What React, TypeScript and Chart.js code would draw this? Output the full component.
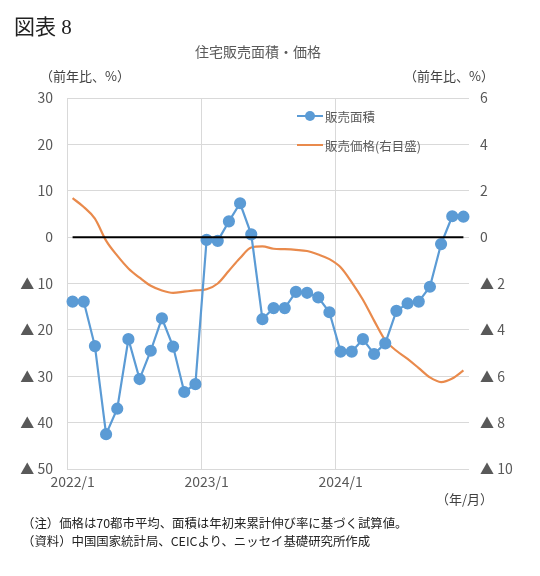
import React, { useEffect, useRef } from "react";
import { Chart, registerables, Plugin } from "chart.js";

Chart.register(...registerables);

// 2022/1 - 2024/12
const months: string[] = [];
for (const y of [2022, 2023, 2024]) {
  for (let m = 1; m <= 12; m++) months.push(`${y}/${m}`);
}

// 販売面積 (left axis, %)
const areaYoY = [
  -13.9, -13.9, -23.5, -42.5, -37.0, -22.0, -30.6, -24.5, -17.5, -23.6, -33.4, -31.7,
  -0.6, -0.8, 3.4, 7.3, 0.6, -17.7, -15.3, -15.3, -11.8, -12.0, -13.0, -16.2,
  -24.7, -24.7, -22.0, -25.2, -22.9, -15.9, -14.3, -13.9, -10.7, -1.5, 4.5, 4.4,
];

// 販売価格 (right axis, %)
const priceYoY = [
  1.68, 1.3, 0.8, -0.15, -0.8, -1.35, -1.75, -2.1, -2.3, -2.4, -2.35, -2.3,
  -2.25, -2.0, -1.45, -0.9, -0.45, -0.4, -0.5, -0.52, -0.55, -0.6, -0.75, -0.95,
  -1.3, -1.95, -2.7, -3.6, -4.45, -4.9, -5.25, -5.65, -6.05, -6.25, -6.1, -5.75,
];

const BLUE = "#5b9bd5";
const ORANGE = "#e98a4c";
const TICK = "#595959";
const GRID = "#d9d9d9";
const JP = '"Noto Sans CJK JP", "Noto Sans", sans-serif';

const tri = (v: number) => (v < 0 ? `▲ ${-v}` : `${v}`);

// black zero line from first to last month
const zeroLine: Plugin<"line"> = {
  id: "zeroLine",
  afterDatasetsDraw(chart) {
    const { ctx } = chart;
    const x = chart.scales.x;
    const y = chart.scales.y;
    const yy = y.getPixelForValue(0);
    ctx.save();
    ctx.strokeStyle = "#000";
    ctx.lineWidth = 2;
    ctx.beginPath();
    ctx.moveTo(x.getPixelForValue(0), yy);
    ctx.lineTo(x.getPixelForValue(months.length - 1), yy);
    ctx.stroke();
    ctx.restore();
  },
};

const App: React.FC = () => {
  const canvasRef = useRef<HTMLCanvasElement | null>(null);

  useEffect(() => {
    const ctx = canvasRef.current?.getContext("2d");
    if (!ctx) return;

    const chart = new Chart(ctx, {
      type: "line",
      data: {
        labels: months,
        datasets: [
          {
            label: "販売面積",
            data: areaYoY,
            yAxisID: "y",
            borderColor: BLUE,
            backgroundColor: BLUE,
            borderWidth: 2.2,
            pointRadius: 5,
            pointBackgroundColor: BLUE,
            pointBorderColor: BLUE,
            tension: 0,
            order: 1,
          },
          {
            label: "販売価格(右目盛)",
            data: priceYoY,
            yAxisID: "y1",
            borderColor: ORANGE,
            backgroundColor: ORANGE,
            borderWidth: 2.2,
            pointRadius: 0,
            cubicInterpolationMode: "monotone",
            order: 2,
          },
        ],
      },
      options: {
        responsive: true,
        maintainAspectRatio: false,
        animation: false,
        layout: { padding: { top: 98, left: 0, right: 0, bottom: 77 } },
        plugins: {
          legend: { display: false },
          tooltip: { enabled: false },
        },
        scales: {
          x: {
            offset: true,
            afterFit: (s) => {
              s.height = 30;
            },
            grid: {
              offset: true,
              drawTicks: false,
              color: (c) => (c.index % 12 === 0 ? GRID : "transparent"),
            },
            border: { display: false },
            ticks: {
              autoSkip: false,
              maxRotation: 0,
              padding: 4,
              color: TICK,
              font: { family: JP, size: 14 },
              callback: (_v, i) => (i % 12 === 0 ? months[i] : ""),
            },
          },
          y: {
            position: "left",
            min: -50,
            max: 30,
            afterFit: (s) => {
              s.width = 67;
            },
            grid: { color: GRID, drawTicks: false },
            border: { display: false },
            ticks: {
              stepSize: 10,
              padding: 14,
              color: TICK,
              font: { family: JP, size: 14 },
              callback: (v) => tri(Number(v)),
            },
          },
          y1: {
            position: "right",
            min: -10,
            max: 6,
            afterFit: (s) => {
              s.width = 71;
            },
            grid: { display: false, drawTicks: false },
            border: { display: false },
            ticks: {
              stepSize: 2,
              padding: 11,
              color: TICK,
              font: { family: JP, size: 14 },
              callback: (v) => tri(Number(v)),
            },
          },
        },
      },
      plugins: [zeroLine],
    });

    return () => {
      chart.destroy();
    };
  }, []);

  const text: React.CSSProperties = { position: "absolute", fontFamily: JP, whiteSpace: "nowrap" };

  return (
    <div style={{ position: "absolute", left: 0, top: 0, width: 540, height: 576, background: "#fff" }}>
      <canvas ref={canvasRef} />
      <div style={{ ...text, left: 14, top: 10, fontSize: 21, color: "#222", fontFamily: '"Liberation Serif", "Noto Sans CJK JP", serif' }}>
        図表 8
      </div>
      <div style={{ ...text, left: 0, width: 516, top: 41, textAlign: "center", fontSize: 14, color: TICK }}>
        住宅販売面積・価格
      </div>
      <div style={{ ...text, left: 40, top: 66, fontSize: 13, color: "#404040" }}>（前年比、%）</div>
      <div style={{ ...text, left: 404, top: 66, fontSize: 13, color: "#404040" }}>（前年比、%）</div>
      {/* legend */}
      <div style={{ position: "absolute", left: 297, top: 115, width: 26, height: 2, background: BLUE }} />
      <div style={{ position: "absolute", left: 305, top: 111, width: 10, height: 10, borderRadius: 5, background: BLUE }} />
      <div style={{ ...text, left: 325, top: 107, fontSize: 12.5, color: TICK }}>販売面積</div>
      <div style={{ position: "absolute", left: 297, top: 144, width: 26, height: 2, background: ORANGE }} />
      <div style={{ ...text, left: 325, top: 136, fontSize: 12.5, color: TICK }}>販売価格(右目盛)</div>
      <div style={{ ...text, left: 436, top: 489, fontSize: 13, color: "#404040" }}>（年/月）</div>
      <div style={{ ...text, left: 22, top: 514, fontSize: 12.4, color: "#222" }}>
        （注）価格は70都市平均、面積は年初来累計伸び率に基づく試算値。
      </div>
      <div style={{ ...text, left: 22, top: 532, fontSize: 12.4, color: "#222" }}>
        （資料）中国国家統計局、CEICより、ニッセイ基礎研究所作成
      </div>
    </div>
  );
};

export default App;
